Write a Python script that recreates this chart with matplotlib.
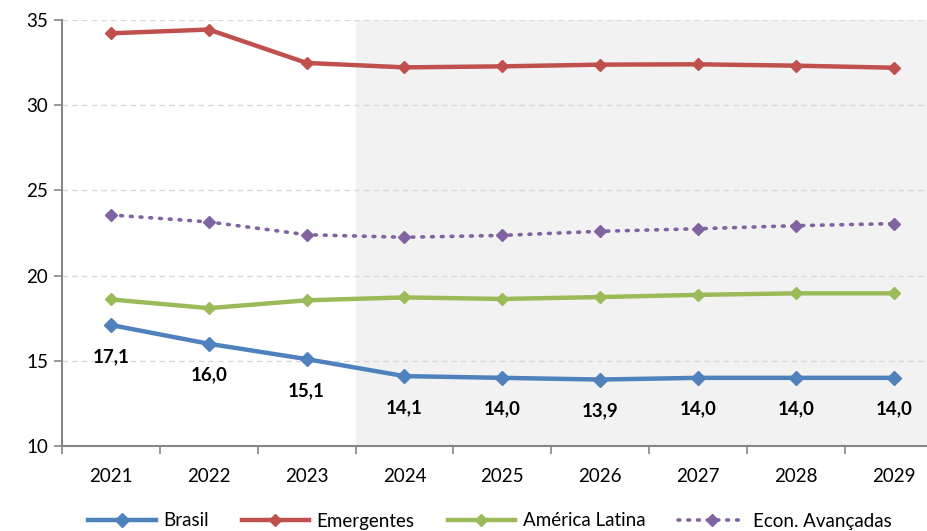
import matplotlib
matplotlib.use("Agg")
import matplotlib.pyplot as plt
from matplotlib.lines import Line2D

plt.rcParams['font.family'] = ['Lato', 'DejaVu Sans']

years = ["2021", "2022", "2023", "2024", "2025", "2026", "2027", "2028", "2029"]
brasil = [17.1, 16.0, 15.1, 14.1, 14.0, 13.9, 14.0, 14.0, 14.0]
brasil_labels = ["17,1", "16,0", "15,1", "14,1", "14,0", "13,9", "14,0", "14,0", "14,0"]
emergentes = [34.22, 34.44, 32.48, 32.22, 32.28, 32.38, 32.40, 32.32, 32.20]
america_latina = [18.60, 18.09, 18.55, 18.72, 18.63, 18.74, 18.87, 18.96, 18.96]
econ_avancadas = [23.56, 23.15, 22.40, 22.25, 22.36, 22.60, 22.75, 22.93, 23.05]

c_bra = "#4F81BD"
c_eme = "#C0504D"
c_lat = "#9BBB59"
c_eco = "#8064A2"

fig = plt.figure(figsize=(9.27, 5.31), dpi=100)
ax = fig.add_axes([62/927, 1-446/531, 1-62/927, (446-20)/531])

x = list(range(len(years)))
ax.axvspan(2.5, 10, color="#F2F2F2", zorder=0, lw=0)

dot_ls = (0, (0.5, 2.2))
ax.plot(x, emergentes, color=c_eme, lw=3.2, marker="D", ms=6, zorder=3)
ax.plot(x, econ_avancadas, color=c_eco, lw=2.6, ls=dot_ls, dash_capstyle="round",
        marker="D", ms=6, zorder=3)
ax.plot(x, america_latina, color=c_lat, lw=3.2, marker="D", ms=6, zorder=3)
ax.plot(x, brasil, color=c_bra, lw=3.2, marker="D", ms=7, zorder=4)

for xi, v, lab in zip(x, brasil, brasil_labels):
    ax.annotate(lab, (xi, v), xytext=(0, -22.5), textcoords="offset points",
                ha="center", va="center", fontsize=13.5, fontweight="bold", color="black")

ax.set_yticks([10, 15, 20, 25, 30, 35])
ax.set_xticks(x)
ax.set_xticklabels(years)
ax.set_xticks([i - 0.5 for i in range(len(years) + 1)], minor=True)
ax.set_xlim(-0.5, 8.34)
ax.set_ylim(10, 35)
ax.tick_params(axis="x", which="major", length=0, pad=16, labelsize=13.5)
ax.tick_params(axis="x", which="minor", length=6, direction="out", color="#868686", width=1.2)
ax.tick_params(axis="y", length=6, direction="out", color="#868686", width=1.2, labelsize=13.5, pad=4)

ax.yaxis.grid(True, color="#D9D9D9", ls=(0, (4, 3)), lw=1.0, zorder=1)
ax.set_axisbelow(True)

for s in ["top", "right"]:
    ax.spines[s].set_visible(False)
for s in ["left", "bottom"]:
    ax.spines[s].set_color("#868686")
    ax.spines[s].set_linewidth(1.5)

handles = [
    Line2D([], [], color=c_bra, lw=3.2, marker="D", ms=7),
    Line2D([], [], color=c_eme, lw=3.2, marker="D", ms=6),
    Line2D([], [], color=c_lat, lw=3.2, marker="D", ms=6),
    Line2D([], [], color=c_eco, lw=2.6, ls=dot_ls, dash_capstyle="round", marker="D", ms=6),
]
labels = ["Brasil", "Emergentes", "América Latina", "Econ. Avançadas"]
fig.legend(handles, labels, loc="center", bbox_to_anchor=(490/927, 1-521/531), ncol=4,
           frameon=False, fontsize=13.5, handlelength=3.6, handletextpad=0.4,
           columnspacing=1.75, numpoints=1)

fig.savefig("out.png", dpi=100)
